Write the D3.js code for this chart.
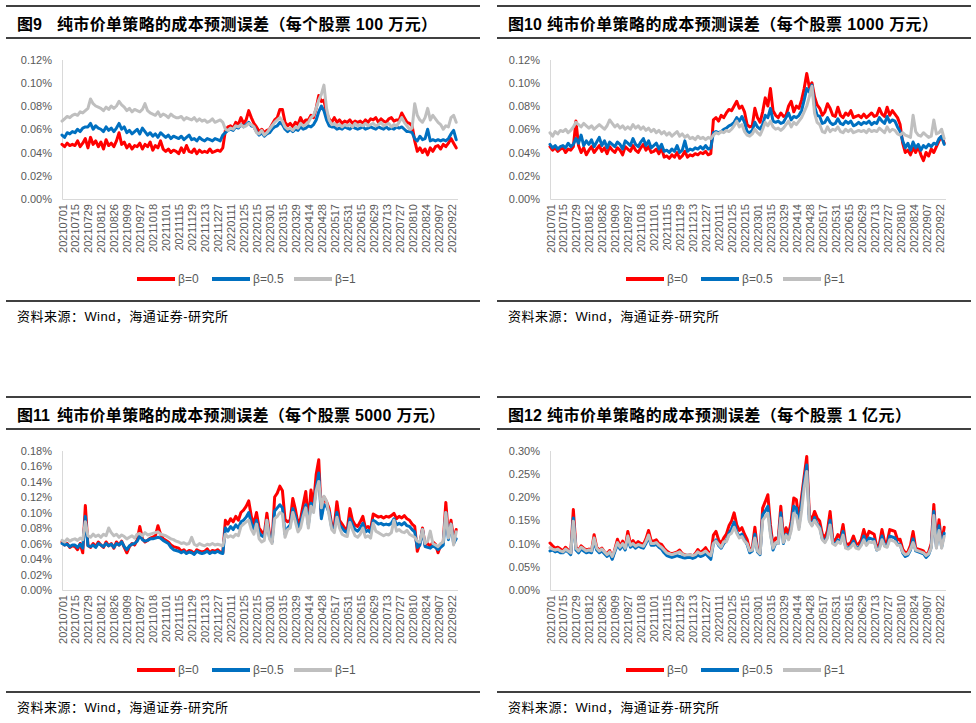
<!DOCTYPE html>
<html><head><meta charset="utf-8">
<script src="https://cdn.jsdelivr.net/npm/d3@7"></script>
<style>body{margin:0;background:#fff}svg{display:block}</style>
</head><body><svg id="c" width="976" height="723"></svg>
<script>
// x tick labels: every 10 trading days
const dateLabels = ["20210701","20210715","20210729","20210812","20210826","20210909","20210927","20211018","20211101","20211115","20211129","20211213","20211227","20220111","20220125","20220215","20220301","20220315","20220329","20220414","20220428","20220517","20220531","20220615","20220629","20220713","20220727","20220810","20220824","20220907","20220922"];
const labelEvery = 10;      // trading days between labels
const tradingDays = 306;    // trading days on the axis
const sampleStep = 2;       // series values read every 2 trading days
// values in units of 0.001%
const fig9_b0 = [47,45,48,46,47,46,50,45,48,52,44,53,47,50,45,49,43,51,46,48,45,50,57,47,49,44,47,43,46,45,48,43,47,45,49,42,46,44,50,43,41,43,40,42,41,39,44,40,46,41,40,43,39,42,40,41,40,43,40,41,42,41,44,59,62,63,61,66,64,70,65,68,76,70,65,62,58,60,57,59,60,64,68,70,77,77,66,63,65,62,66,64,70,65,68,68,72,70,78,89,84,85,74,69,66,70,66,68,65,67,66,68,65,67,66,67,65,68,66,69,68,70,66,69,67,66,69,70,67,68,68,74,70,66,65,63,50,41,44,40,43,38,44,41,45,46,43,47,45,48,52,48,44];
const fig9_b05 = [55,53,57,56,58,57,60,58,61,62,62,65,60,63,61,60,58,62,59,61,58,61,65,60,62,57,59,56,58,60,56,61,58,55,57,54,56,53,57,55,53,55,52,54,53,52,54,51,53,55,51,52,50,53,51,50,52,51,50,52,51,50,55,57,59,60,59,62,61,64,62,64,66,63,62,58,55,57,54,56,57,60,62,63,66,64,60,58,60,58,60,59,62,60,61,63,62,64,68,75,80,76,68,63,62,62,60,61,60,62,61,60,62,61,60,61,62,60,61,62,61,60,62,61,60,62,60,61,60,62,61,62,60,58,58,57,52,50,54,51,52,60,50,51,50,51,50,51,50,52,56,59,51];
const fig9_b1 = [67,69,71,70,72,73,72,75,74,76,78,86,82,80,79,78,76,79,77,80,78,80,84,81,79,76,78,75,77,76,75,77,82,76,74,73,72,75,71,73,72,70,73,71,70,70,71,68,70,69,68,70,67,69,67,68,66,67,69,66,67,68,66,60,59,61,60,63,62,64,62,63,65,64,62,57,56,59,55,57,60,63,66,68,70,67,62,60,61,59,62,61,65,63,64,66,70,72,78,85,90,98,78,68,64,65,63,64,62,64,63,64,62,65,63,64,63,65,63,64,65,63,64,66,63,64,65,62,64,63,66,70,66,63,60,61,82,72,68,66,70,78,68,72,69,66,64,60,63,62,70,72,66];
const fig10_b0 = [45,42,44,41,43,44,40,43,42,45,67,46,40,44,38,42,45,40,43,46,41,44,39,45,42,40,44,42,38,45,43,41,46,42,40,44,47,42,45,40,41,43,39,44,36,37,35,38,36,40,35,37,41,36,38,37,39,38,40,39,41,38,39,68,70,67,72,70,74,77,76,80,84,78,80,75,64,62,63,78,70,66,75,87,80,95,76,72,70,74,71,72,80,84,75,80,78,85,95,108,96,100,88,81,78,72,75,82,78,72,71,79,72,70,74,72,76,70,71,72,70,73,70,72,74,71,72,78,73,71,79,72,76,73,70,64,48,40,42,38,44,40,45,38,33,40,37,43,40,45,50,54,48];
const fig10_b05 = [47,44,46,43,45,46,44,48,45,47,52,48,55,46,50,47,51,45,49,53,46,50,44,49,47,45,49,47,43,50,48,46,52,47,45,49,52,46,50,44,46,48,43,47,41,42,40,43,41,46,40,42,50,41,43,42,44,43,45,43,46,43,44,57,58,57,58,60,61,63,64,66,70,67,71,66,58,57,59,66,62,60,64,72,70,78,67,66,67,65,66,70,74,68,71,70,72,76,85,95,92,98,80,72,71,65,66,70,66,64,65,69,65,64,67,65,67,63,64,66,64,66,65,67,64,66,65,70,67,65,71,66,68,67,62,58,50,44,48,42,49,44,47,42,46,44,47,45,48,47,52,54,47];
const fig10_b1 = [57,54,58,56,59,58,60,57,59,62,66,64,62,65,63,61,63,60,62,64,62,60,63,68,65,62,64,61,63,60,62,60,64,61,63,60,62,59,61,58,60,57,59,56,58,55,57,54,56,58,54,56,53,55,52,53,51,54,52,53,51,53,52,55,57,56,58,57,59,58,60,63,67,62,64,58,55,54,56,60,57,55,60,66,63,67,62,60,61,59,61,64,67,62,66,64,67,70,75,80,88,97,74,66,64,58,57,62,58,60,59,62,58,57,60,58,60,57,58,59,58,59,57,60,58,59,58,61,59,57,62,58,60,59,56,55,57,55,54,53,72,58,55,54,57,55,53,54,68,56,57,60,52];
const fig11_b0 = [62,58,60,55,57,56,52,60,48,109,58,55,60,56,62,58,55,62,57,60,54,62,58,63,55,48,56,60,58,65,82,66,62,64,67,68,70,83,72,66,64,62,58,56,55,54,50,52,48,51,50,47,52,50,49,50,53,48,51,50,52,49,48,90,85,92,88,95,90,100,103,108,115,95,85,100,80,75,72,99,72,63,120,125,134,128,91,88,90,118,104,85,92,110,127,88,129,110,149,168,95,120,114,105,84,82,114,90,85,80,78,105,90,84,82,88,95,80,82,78,98,96,94,95,93,95,94,96,99,92,95,93,96,92,90,85,82,50,60,80,58,60,56,62,59,48,58,62,113,70,90,65,78];
const fig11_b05 = [60,58,59,56,58,58,55,59,54,95,57,56,58,55,60,58,56,60,57,59,55,60,58,62,56,52,57,59,60,63,70,65,63,64,66,66,67,68,67,64,62,60,55,52,51,50,48,50,47,49,48,46,50,48,47,48,50,47,49,48,50,48,47,80,76,82,78,84,80,88,90,94,100,86,78,90,74,70,68,90,68,62,102,106,110,106,72,80,84,105,95,80,86,100,110,84,112,105,132,151,92,110,108,100,80,78,100,84,80,76,74,92,84,78,76,80,86,75,77,74,90,88,85,86,84,85,84,86,92,84,86,84,87,83,82,78,75,55,58,78,56,55,54,57,55,52,55,58,100,65,85,60,66];
const fig11_b1 = [64,62,66,63,65,66,64,67,65,88,70,68,72,69,71,68,72,70,80,74,70,72,68,71,69,66,68,70,67,72,73,70,74,71,72,73,74,75,72,71,70,68,66,65,63,62,60,61,59,60,68,59,57,60,58,57,59,58,60,58,59,58,57,72,68,70,68,72,70,82,85,88,90,78,72,85,66,62,64,90,66,60,92,95,100,98,68,78,80,100,88,75,80,95,106,80,108,100,128,140,106,121,115,96,78,74,94,80,72,70,69,87,78,70,68,72,80,68,70,67,86,76,74,72,70,72,71,74,90,76,78,75,74,77,72,70,68,63,62,78,60,63,76,60,58,56,60,62,100,67,85,58,75];
const fig12_b0 = [101,95,90,92,88,84,92,86,80,173,92,85,95,90,86,88,84,119,92,86,90,82,78,85,68,88,109,94,105,92,126,100,106,98,104,100,98,110,128,106,105,108,100,98,90,84,80,78,80,82,86,78,76,74,76,73,78,87,80,85,91,82,76,118,126,108,100,112,120,138,148,166,140,128,134,120,109,86,90,135,88,80,176,190,205,140,95,112,110,180,112,134,120,148,198,194,150,200,244,287,162,150,169,155,148,120,112,128,169,110,106,119,112,141,100,98,102,116,100,98,108,130,110,126,123,120,92,98,130,104,102,130,128,126,108,109,88,80,82,96,126,90,88,86,84,75,82,100,184,98,151,100,135];
const fig12_b05 = [84,86,82,84,80,80,85,82,76,155,86,80,88,84,80,82,80,105,86,80,84,78,72,78,66,82,98,88,96,86,110,92,96,90,95,92,90,100,114,96,96,98,92,88,80,74,72,70,72,74,72,70,69,70,70,68,70,75,72,74,78,72,66,100,108,96,90,100,106,122,132,146,125,115,120,108,98,80,84,120,82,76,162,170,180,125,86,100,100,166,100,120,110,135,180,176,136,185,234,269,150,140,156,142,136,110,104,116,150,102,98,108,102,126,92,90,94,105,92,90,98,116,100,112,110,108,86,90,116,96,94,116,114,112,98,98,80,72,75,86,110,84,82,80,78,70,76,92,169,92,138,92,122];
const fig12_b1 = [91,88,86,88,84,82,88,84,80,148,90,84,92,88,84,86,84,112,90,84,88,82,76,82,72,86,102,92,100,90,116,96,100,94,98,96,94,104,118,100,100,102,96,92,86,80,78,76,78,80,82,77,75,76,76,74,76,82,78,80,84,78,74,100,105,98,92,104,104,118,122,135,122,112,115,105,100,84,86,112,84,78,150,158,165,118,90,102,100,155,102,118,108,128,165,160,130,170,219,255,148,138,150,140,132,108,102,112,140,100,96,104,100,118,90,88,92,100,90,88,96,108,96,104,102,104,86,88,108,94,92,108,106,104,96,96,82,76,78,88,102,86,84,82,80,74,78,90,160,90,128,90,115];

const seriesNames = ["β=0","β=0.5","β=1"];
const seriesColors = ["#FF0000","#0070C0","#BFBFBF"];
const figPrefixes = ["图9","图10","图11","图12"];
const figTitles = ["纯市价单策略的成本预测误差（每个股票 100 万元）","纯市价单策略的成本预测误差（每个股票 1000 万元）","纯市价单策略的成本预测误差（每个股票 5000 万元）","纯市价单策略的成本预测误差（每个股票 1 亿元）"];
const yMaxes = [120,120,180,300];
const yStepsList = [20,20,20,50];
const sourceText = "资料来源：Wind，海通证券-研究所";
const figSeries = [[fig9_b0,fig9_b05,fig9_b1],[fig10_b0,fig10_b05,fig10_b1],[fig11_b0,fig11_b05,fig11_b1],[fig12_b0,fig12_b05,fig12_b1]];

// layout
const titleLens = [380,391,388,364];
const FONT = "'Liberation Sans', Arial, 'Noto Sans CJK SC', sans-serif";
const svg = d3.select("#c");

figSeries.forEach((series, p) => {
  const col = p % 2, row = Math.floor(p / 2);
  const dx = col * 488, tx = col * 491, dy = row * 391;
  const g = svg.append("g");

  // rules
  [6, 38, 301].forEach(yy => g.append("line")
    .attr("x1", 6 + tx).attr("x2", 480 + tx).attr("y1", yy + dy).attr("y2", yy + dy)
    .attr("stroke", "#000").attr("stroke-width", 1.3));

  // title
  g.append("text").attr("x", 17 + tx).attr("y", 30 + dy)
    .attr("font-family", FONT).attr("font-size", 16).attr("font-weight", "bold")
    .text(figPrefixes[p]);
  g.append("text").attr("x", 57 + tx - (col ? 1 : 0)).attr("y", 30 + dy)
    .attr("font-family", FONT).attr("font-size", 16).attr("font-weight", "bold")
    .attr("textLength", titleLens[p]).attr("lengthAdjust", "spacing")
    .text(figTitles[p]);

  // scales
  const x = d3.scaleLinear().domain([0, tradingDays - 1]).range([62 + dx, 457.5 + dx]);
  const y = d3.scaleLinear().domain([0, yMaxes[p]]).range([199 + dy, 59.5 + dy]);

  // y axis
  const yTicks = d3.range(0, yMaxes[p] + 1, yStepsList[p]);
  const yAxis = d3.axisLeft(y).tickValues(yTicks).tickSize(0).tickPadding(10)
    .tickFormat(v => (v / 1000).toFixed(2) + "%");
  const ya = g.append("g").attr("transform", `translate(${62 + dx},0)`).call(yAxis);
  ya.select(".domain").attr("stroke", "#D9D9D9").attr("stroke-width", 1);
  ya.selectAll("text").attr("font-family", FONT).attr("font-size", 11).attr("fill", "#595959");

  // x axis
  const xAxis = d3.axisBottom(x).tickValues(d3.range(0, dateLabels.length * labelEvery, labelEvery))
    .tickSize(0).tickFormat(v => dateLabels[v / labelEvery]);
  const xa = g.append("g").attr("transform", `translate(0,${199 + dy})`).call(xAxis);
  xa.select(".domain").attr("stroke", "#D9D9D9").attr("stroke-width", 1);
  xa.selectAll("text").attr("font-family", FONT).attr("font-size", 11).attr("fill", "#595959")
    .attr("text-anchor", "end").attr("dy", null).attr("y", 0)
    .attr("transform", "translate(4,5) rotate(-90)");

  // lines
  const line = d3.line().x((d, i) => x(i * sampleStep)).y(d => y(d)).curve(d3.curveLinear);
  series.forEach((s, k) => {
    g.append("path").datum(s).attr("d", line).attr("fill", "none")
      .attr("stroke", seriesColors[k]).attr("stroke-width", 3)
      .attr("stroke-linejoin", "round").attr("stroke-linecap", "round");
  });

  // legend
  const lx = [137, 212, 294];
  seriesNames.forEach((n, k) => {
    g.append("line").attr("x1", lx[k] + dx + col).attr("x2", lx[k] + 38 + dx + col)
      .attr("y1", 279 + dy).attr("y2", 279 + dy)
      .attr("stroke", seriesColors[k]).attr("stroke-width", 4);
    g.append("text").attr("x", lx[k] + 41 + dx + col).attr("y", 283 + dy)
      .attr("font-family", FONT).attr("font-size", 12).attr("fill", "#595959").text(n);
  });

  // source
  g.append("text").attr("x", 17 + tx).attr("y", 321 + dy)
    .attr("font-family", FONT).attr("font-size", 13)
    .attr("textLength", 211).attr("lengthAdjust", "spacing").text(sourceText);
});
</script></body></html>
